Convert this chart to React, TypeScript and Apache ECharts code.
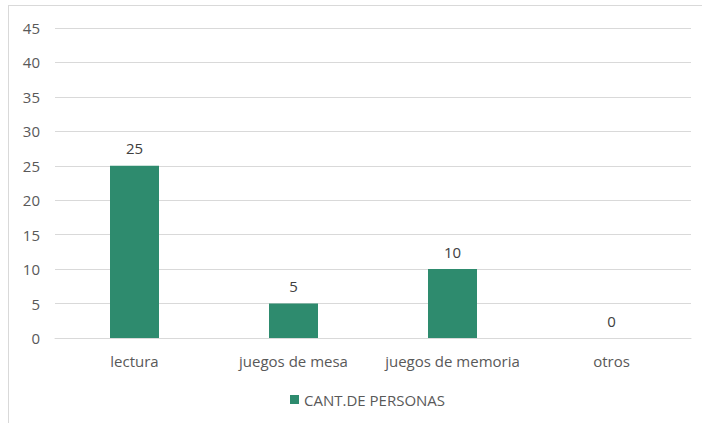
import React, { useEffect, useRef } from "react";
import * as echarts from "echarts";

const categories = ["lectura", "juegos de mesa", "juegos de memoria", "otros"];
const values = [25, 5, 10, 0];
const seriesName = "CANT.DE PERSONAS";

export default function App() {
  const ref = useRef<HTMLDivElement>(null);
  useEffect(() => {
    const chart = echarts.init(ref.current!, null, { renderer: "svg" });
    const font = "'Open Sans', 'Noto Sans', sans-serif";
    chart.setOption({
      animation: false,
      backgroundColor: "#ffffff",
      textStyle: { fontFamily: font },
      graphic: [
        { type: "line", shape: { x1: 8.5, y1: 5, x2: 8.5, y2: 423 }, style: { stroke: "#d9d9d9", lineWidth: 1 } },
        { type: "line", shape: { x1: 8, y1: 5.5, x2: 702, y2: 5.5 }, style: { stroke: "#d9d9d9", lineWidth: 1 } },
      ],
      grid: { left: 55, right: 11, top: 28, bottom: 85, containLabel: false },
      legend: {
        data: [seriesName],
        bottom: 11,
        left: 285,
        itemWidth: 9,
        itemHeight: 9,
        itemGap: 4,
        icon: "rect",
        textStyle: { color: "#595959", fontSize: 15, fontFamily: font },
      },
      xAxis: {
        type: "category",
        data: categories,
        axisLine: { show: true, lineStyle: { color: "#d9d9d9" } },
        axisTick: { show: false },
        axisLabel: { color: "#595959", fontSize: 15, margin: 15, interval: 0, hideOverlap: false, fontFamily: font },
      },
      yAxis: {
        type: "value",
        min: 0,
        max: 45,
        interval: 5,
        axisLine: { show: false },
        axisTick: { show: false },
        splitLine: { lineStyle: { color: "#d9d9d9" } },
        axisLabel: { color: "#595959", fontSize: 15, margin: 15, fontFamily: font },
      },
      series: [
        {
          name: seriesName,
          type: "bar",
          data: values,
          barWidth: 49,
          itemStyle: { color: "#2e8b6e" },
          label: { show: true, position: "top", distance: 10, color: "#404040", fontSize: 15, fontFamily: font },
        },
      ],
    });
    return () => chart.dispose();
  }, []);
  return <div ref={ref} style={{ position: "fixed", left: 0, top: 0, width: 702, height: 423 }} />;
}
